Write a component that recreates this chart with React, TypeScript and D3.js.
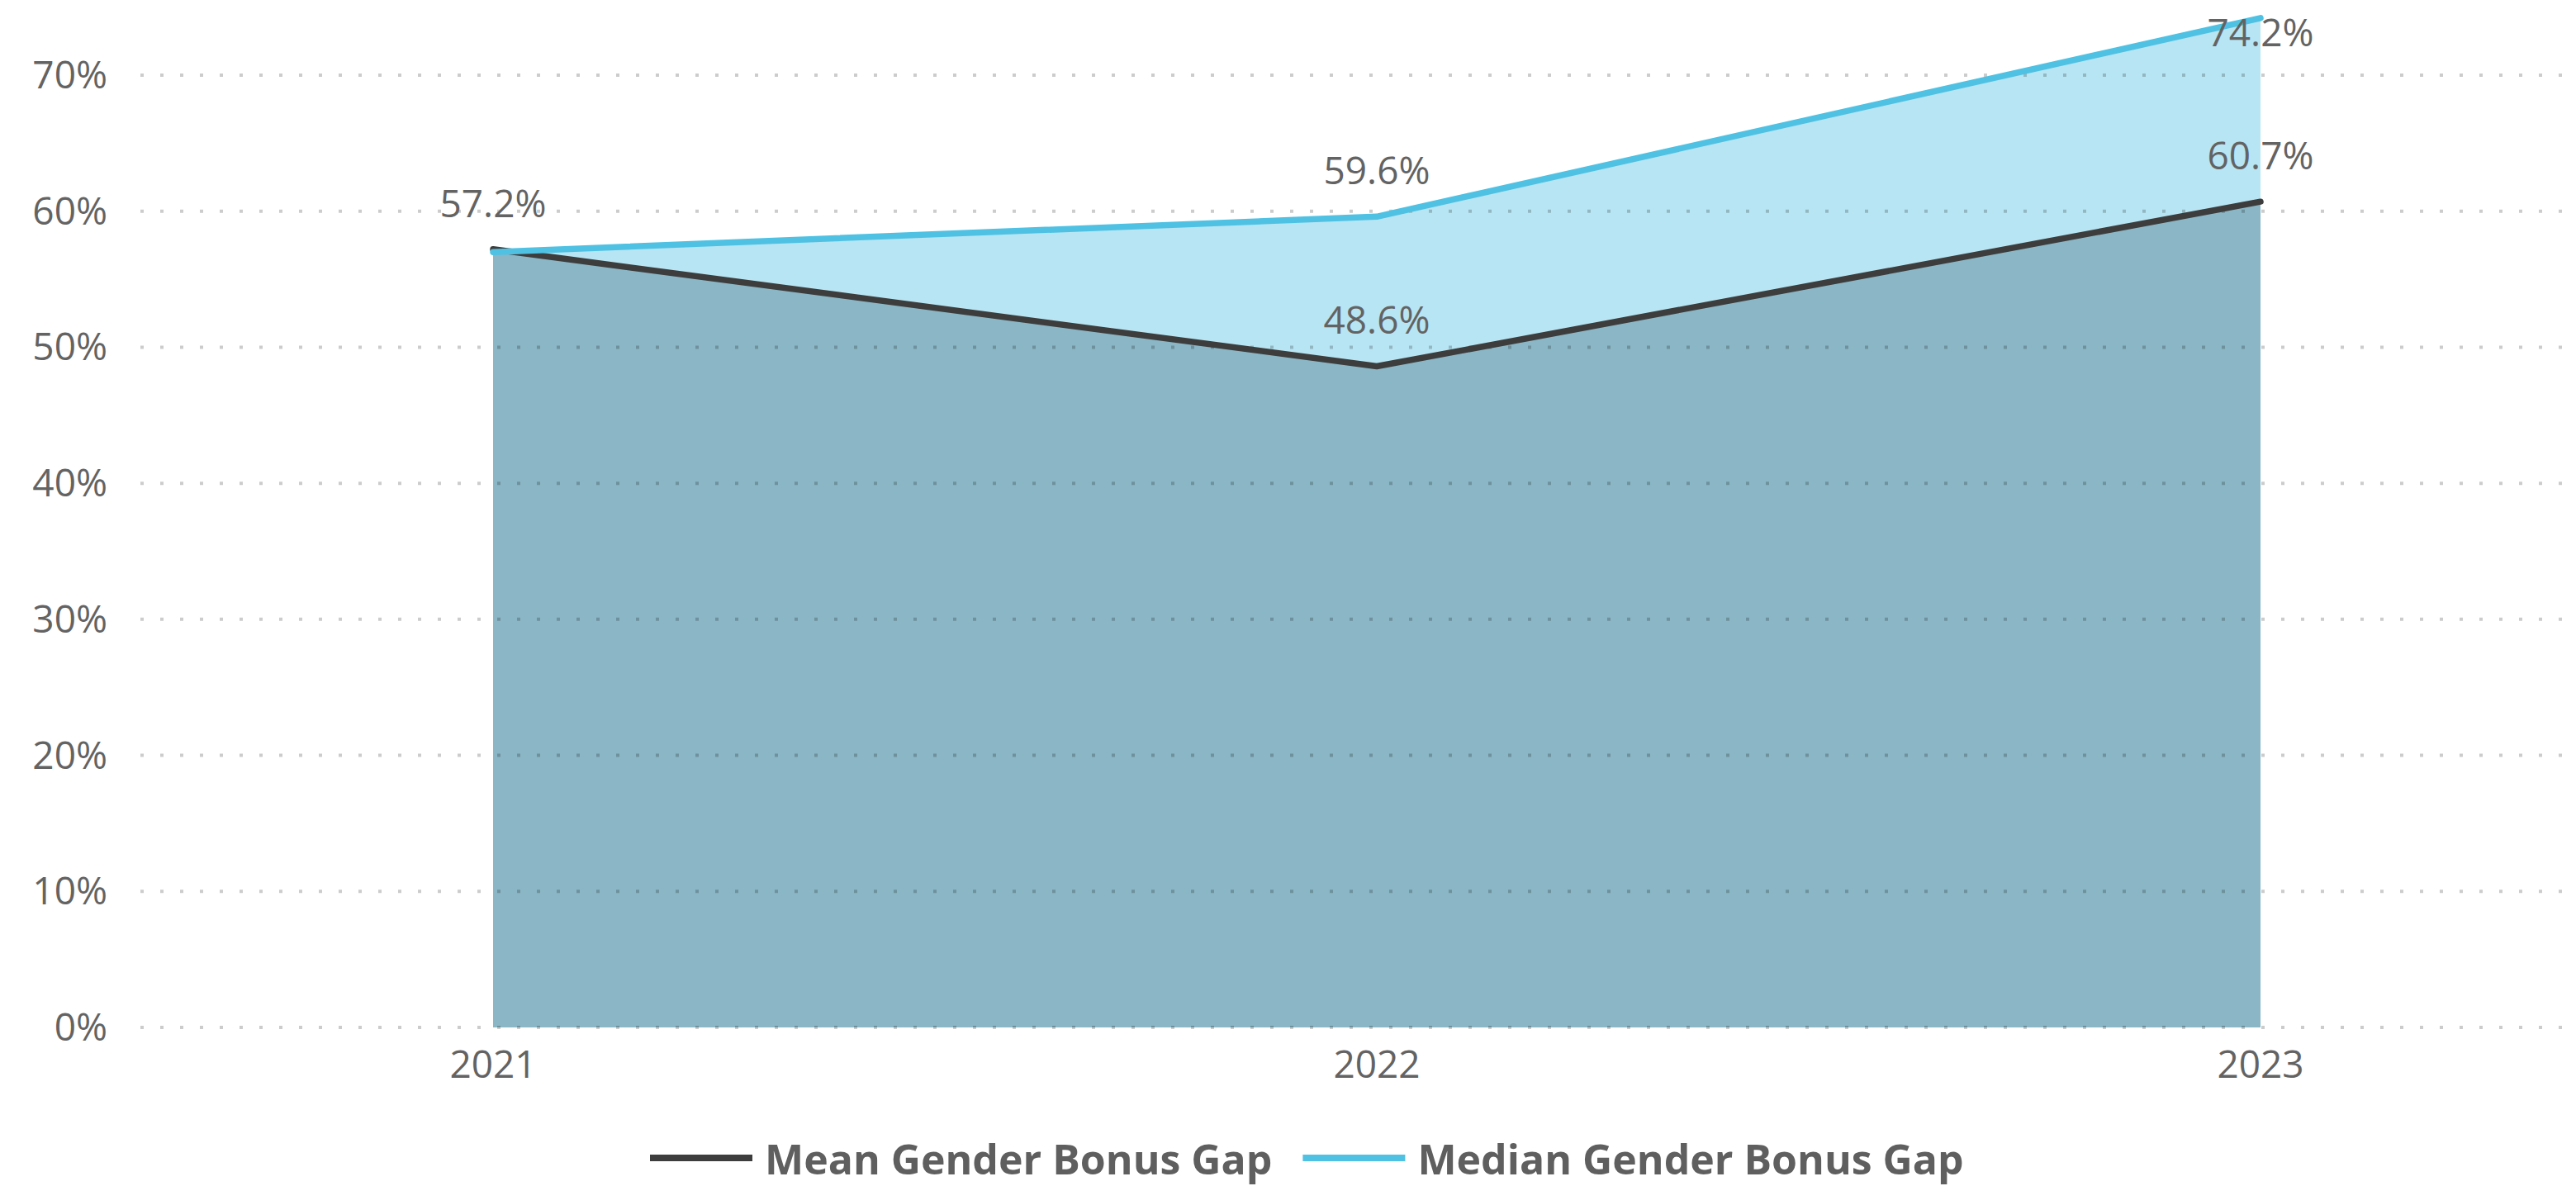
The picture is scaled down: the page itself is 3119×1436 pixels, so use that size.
import React, { useLayoutEffect, useRef, useState } from "react";
import * as d3 from "d3";

const years: string[] = ["2021", "2022", "2023"];
const meanGap: number[] = [0.572, 0.486, 0.607];
const medianGap: number[] = [0.57, 0.596, 0.742];
const medianLabelShown: boolean[] = [false, true, true];
const meanLabelShown: boolean[] = [true, true, true];
const yTicks: number[] = [0, 0.1, 0.2, 0.3, 0.4, 0.5, 0.6, 0.7];
const seriesNames: string[] = ["Mean Gender Bonus Gap", "Median Gender Bonus Gap"];

const W = 3119;
const H = 1436;
const FONT = "'Open Sans', 'Noto Sans', sans-serif";
const TEXT = "#636363";
const MEAN_LINE = "#3d3d3d";
const MEDIAN_LINE = "#4fc1e3";
const MEAN_FILL = "#8ab6c5";
const MEDIAN_FILL = "#b7e5f3";

export default function App() {
  const x = d3.scalePoint<string>().domain(years).range([597, 2737]);
  const y = d3.scaleLinear().domain([0, 0.7]).range([1244, 91]);
  const pct = d3.format(".0%");
  const pct1 = d3.format(".1%");

  const meanPts = years.map((yr, i) => ({ yr, v: meanGap[i] }));
  const medPts = years.map((yr, i) => ({ yr, v: medianGap[i] }));

  const area = d3
    .area<{ yr: string; v: number }>()
    .x((d) => x(d.yr) as number)
    .y0(y(0))
    .y1((d) => y(d.v));
  const line = d3
    .line<{ yr: string; v: number }>()
    .x((d) => x(d.yr) as number)
    .y((d) => y(d.v));

  const legRef = useRef<SVGTextElement>(null);
  const [legW, setLegW] = useState(616);
  useLayoutEffect(() => {
    if (legRef.current) setLegW(legRef.current.getComputedTextLength());
  }, []);

  const legX0 = 787;
  const legLine = 124;
  const legGap = 15;
  const legItemGap = 37;
  const leg2X = legX0 + legLine + legGap + legW + legItemGap;

  const labelY = (v: number) => {
    const py = y(v);
    return py - 39 - 34 < 0 ? py + 34 : py - 39;
  };

  return (
    <svg
      width={W}
      height={H}
      style={{ position: "absolute", left: 0, top: 0, background: "#fff" }}
    >
      <path d={area(medPts) as string} fill={MEDIAN_FILL} />
      <path d={area(meanPts) as string} fill={MEAN_FILL} />
      {yTicks.map((t) => (
        <g key={t}>
          <line
            x1={170}
            x2={3104}
            y1={y(t)}
            y2={y(t)}
            stroke="rgba(0,0,0,0.2)"
            strokeWidth={4}
            strokeDasharray="4 20"
          />
          <text
            x={130}
            y={y(t) + 16}
            textAnchor="end"
            fontFamily={FONT}
            fontSize={46}
            fill={TEXT}
          >
            {pct(t)}
          </text>
        </g>
      ))}
      {years.map((yr) => (
        <text
          key={yr}
          x={x(yr)}
          y={1305}
          textAnchor="middle"
          fontFamily={FONT}
          fontSize={46}
          fill={TEXT}
        >
          {yr}
        </text>
      ))}
      <path
        d={line(meanPts) as string}
        fill="none"
        stroke={MEAN_LINE}
        strokeWidth={7.5}
        strokeLinecap="round"
        strokeLinejoin="round"
      />
      <path
        d={line(medPts) as string}
        fill="none"
        stroke={MEDIAN_LINE}
        strokeWidth={7.5}
        strokeLinecap="round"
        strokeLinejoin="round"
      />
      {meanPts.map((d, i) =>
        meanLabelShown[i] ? (
          <text
            key={"m" + d.yr}
            x={x(d.yr)}
            y={labelY(d.v)}
            textAnchor="middle"
            fontFamily={FONT}
            fontSize={46}
            fill={TEXT}
          >
            {pct1(d.v)}
          </text>
        ) : null
      )}
      {medPts.map((d, i) =>
        medianLabelShown[i] ? (
          <text
            key={"d" + d.yr}
            x={x(d.yr)}
            y={labelY(d.v)}
            textAnchor="middle"
            fontFamily={FONT}
            fontSize={46}
            fill={TEXT}
          >
            {pct1(d.v)}
          </text>
        ) : null
      )}
      <g>
        <line
          x1={legX0}
          x2={legX0 + legLine}
          y1={1402}
          y2={1402}
          stroke={MEAN_LINE}
          strokeWidth={8}
        />
        <text
          ref={legRef}
          x={legX0 + legLine + legGap}
          y={1422}
          fontFamily={FONT}
          fontWeight="bold"
          fontSize={50}
          fill="#5f5f5f"
        >
          {seriesNames[0]}
        </text>
        <line
          x1={leg2X}
          x2={leg2X + legLine}
          y1={1402}
          y2={1402}
          stroke={MEDIAN_LINE}
          strokeWidth={8}
        />
        <text
          x={leg2X + legLine + legGap}
          y={1422}
          fontFamily={FONT}
          fontWeight="bold"
          fontSize={50}
          fill="#5f5f5f"
        >
          {seriesNames[1]}
        </text>
      </g>
    </svg>
  );
}
